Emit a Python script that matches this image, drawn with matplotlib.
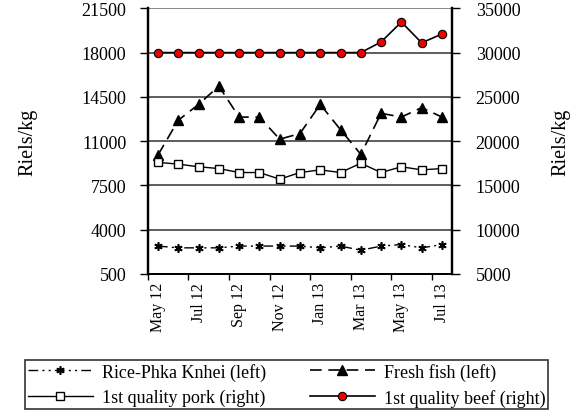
import numpy as np
import matplotlib
matplotlib.use('Agg')
import matplotlib.pyplot as plt
from matplotlib.ticker import FixedLocator, NullFormatter

months = ['May 12', 'Jun 12', 'Jul 12', 'Aug 12', 'Sep 12', 'Oct 12', 'Nov 12',
          'Dec 12', 'Jan 13', 'Feb 13', 'Mar 13', 'Apr 13', 'May 13', 'Jun 13', 'Jul 13']

# left axis (Riels/kg)
rice = [2700, 2560, 2560, 2560, 2700, 2700, 2700, 2700, 2560, 2700, 2370, 2700, 2820, 2560, 2820]
fish = [9900, 12650, 13900, 15350, 12900, 12900, 11150, 11600, 13900, 11900, 9950, 13200, 12900, 13650, 12900]
# right axis (Riels/kg)
pork = [17600, 17400, 17100, 16900, 16450, 16450, 15700, 16450, 16750, 16450, 17500, 16450, 17100, 16750, 16900]
beef = [30000, 30000, 30000, 30000, 30000, 30000, 30000, 30000, 30000, 30000, 30000, 31200, 33450, 31100, 32100]

left_ticks = [500, 4000, 7500, 11000, 14500, 18000, 21500]
right_ticks = [5000, 10000, 15000, 20000, 25000, 30000, 35000]

plt.rcParams['font.family'] = ['Liberation Serif', 'DejaVu Serif']
plt.rcParams['font.size'] = 13

fig = plt.figure(figsize=(5.73, 4.14), dpi=100)
ax = fig.add_axes([0.258, 0.336, 0.531, 0.6415])
ax2 = ax.twinx()

x = np.arange(len(months))

l_rice, = ax.plot(x, rice, color='black', lw=1, dashes=(7, 3, 1.5, 3, 1.5, 3),
                  marker=(6, 2, 0), ms=6, mew=1.2, label='Rice-Phka Knhei (left)', zorder=3)
l_fish, = ax.plot(x, fish, color='black', lw=1.2, dashes=(7, 4),
                  marker='^', ms=6.5, label='Fresh fish (left)', zorder=3)
l_pork, = ax2.plot(x, pork, color='black', lw=1, marker='s', ms=5.5,
                   mfc='white', mec='black', mew=1, label='1st quality pork (right)', zorder=3)
l_beef, = ax2.plot(x, beef, color='black', lw=1.2, marker='o', ms=6,
                   mfc='#ee0000', mec='black', mew=0.8, label='1st quality beef (right)', zorder=3)

ax.set_ylim(500, 21500)
ax2.set_ylim(5000, 35000)
ax.set_yticks(left_ticks)
ax2.set_yticks(right_ticks)
for t in left_ticks[1:]:
    ax.axhline(t, color='#505050' if t != 21500 else '#808080', lw=1.3, zorder=1)

ax.set_xlim(-0.5, len(months) - 0.5)
ax.xaxis.set_major_locator(FixedLocator(np.arange(-0.5, len(months) - 1, 2)))
ax.xaxis.set_major_formatter(NullFormatter())
ax.set_xticks(x[::2], minor=True)
ax.set_xticklabels(months[::2], minor=True, rotation=90, fontsize=11.5)
ax.tick_params(axis='x', which='major', direction='out', length=4, width=1)
ax.tick_params(axis='x', which='minor', length=0, pad=6)
ax.tick_params(axis='y', direction='out', length=6, width=1, pad=9.5)
ax2.tick_params(axis='y', direction='out', length=6, width=1, pad=11)

for a in (ax, ax2):
    a.spines['top'].set_visible(False)
    a.spines['left'].set_linewidth(1.6)
    a.spines['right'].set_linewidth(1.6)
    a.spines['bottom'].set_linewidth(1.3)

ax.set_ylabel('Riels/kg', fontsize=14.5, labelpad=32)
ax2.set_ylabel('Riels/kg', fontsize=14.5, labelpad=22)

leg = fig.legend(handles=[l_rice, l_pork, l_fish, l_beef], ncol=2,
                 loc='upper left', bbox_to_anchor=(0.044, 0.0, 0.913, 1 - 361 / 414),
                 mode='expand', frameon=True, fancybox=False, fontsize=13,
                 handlelength=3.6, borderpad=0.15, labelspacing=0.45, columnspacing=1.0,
                 handletextpad=0.5, borderaxespad=0)
leg.get_frame().set_edgecolor('black')
leg.get_frame().set_linewidth(1.2)

fig.savefig('out.png', dpi=100)
